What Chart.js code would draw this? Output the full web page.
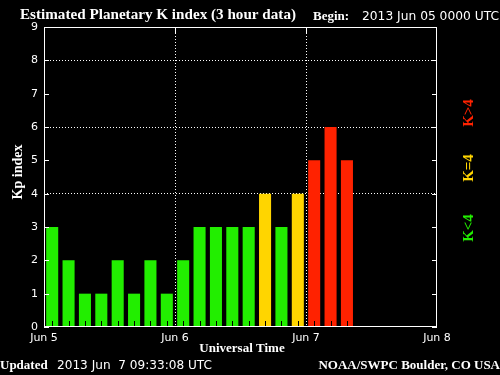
<!DOCTYPE html>
<html>
<head>
<meta charset="utf-8">
<style>
  html, body { margin: 0; padding: 0; background: #000; }
  #wrap { width: 500px; height: 375px; }
</style>
</head>
<body>
<div id="wrap"><canvas id="kpChart" width="500" height="375"></canvas></div>
<script src="https://cdn.jsdelivr.net/npm/chart.js"></script>
<script>
// Kp values, one per 3 hour slot starting 2013 Jun 05 0000 UTC
const kpValues = [3, 2, 1, 1, 2, 1, 2, 1,
                  2, 3, 3, 3, 3, 4, 3, 4,
                  5, 6, 5];
const dayLabels = ['Jun 5', 'Jun 6', 'Jun 7', 'Jun 8'];
const yTicks = [0, 1, 2, 3, 4, 5, 6, 7, 8, 9];
const slotsPerDay = 8;

const GREEN = '#22ee00';
const YELLOW = '#ffd500';
const RED = '#ff2200';
const kpColor = v => v < 4 ? GREEN : (v === 4 ? YELLOW : RED);

const serifBold = 'bold 13px "Liberation Serif", "DejaVu Serif", serif';
const plain = '12px "DejaVu Sans", sans-serif';

// draw text stretched to a given width
function fitText(ctx, txt, x, y, w) {
    const m = ctx.measureText(txt).width;
    ctx.save();
    ctx.translate(x, y);
    ctx.scale(w / m, 1);
    ctx.fillText(txt, 0, 0);
    ctx.restore();
}

// frame, inner tick marks and the loose texts round the plot
const decorPlugin = {
    id: 'decor',
    afterDatasetsDraw(chart) {
        const ctx = chart.ctx;
        const a = chart.chartArea;
        const x = chart.scales.x, y = chart.scales.y;
        ctx.save();
        ctx.strokeStyle = '#fff';
        ctx.lineWidth = 1;
        ctx.strokeRect(a.left + 0.5, a.top + 0.5, a.right - a.left - 1, a.bottom - a.top - 1);
        ctx.beginPath();
        yTicks.forEach(t => {
            const py = Math.round(y.getPixelForValue(t)) + 0.5;
            ctx.moveTo(a.left, py); ctx.lineTo(a.left + 5, py);
            ctx.moveTo(a.right, py); ctx.lineTo(a.right - 5, py);
        });
        for (let d = 1; d < dayLabels.length - 1; d++) {
            const px = Math.round(x.getPixelForValue(d * slotsPerDay)) + 0.5;
            ctx.moveTo(px, a.top); ctx.lineTo(px, a.top + 6);
        }
        ctx.stroke();
        // short black marks at the foot of each slot
        ctx.strokeStyle = '#000';
        ctx.beginPath();
        kpValues.forEach((v, i) => {
            const px = Math.round(x.getPixelForValue(i + 0.5)) + 0.5;
            ctx.moveTo(px, a.bottom - 1); ctx.lineTo(px, a.bottom - 6);
        });
        ctx.stroke();
        ctx.restore();
    },
    afterDraw(chart) {
        const ctx = chart.ctx;
        ctx.save();
        ctx.fillStyle = '#fff';
        ctx.textBaseline = 'middle';
        ctx.textAlign = 'left';
        ctx.font = 'bold 14px "Liberation Serif", "DejaVu Serif", serif';
        fitText(ctx, 'Estimated Planetary K index (3 hour data)', 20, 15, 276);
        ctx.font = serifBold;
        ctx.fillText('Begin:', 313, 17);
        ctx.font = plain;
        fitText(ctx, '2013 Jun 05 0000 UTC', 362, 17, 137);
        ctx.font = serifBold;
        ctx.fillText('Updated', 0, 366);
        ctx.font = plain;
        fitText(ctx, '2013 Jun  7 09:33:08 UTC', 57, 366, 155);
        ctx.font = serifBold;
        ctx.textAlign = 'right';
        ctx.fillText('NOAA/SWPC Boulder, CO USA', 500, 366);
        ctx.textAlign = 'center';
        ctx.fillText('Universal Time', 242, 349);

        ctx.save();
        ctx.translate(18, 172);
        ctx.rotate(-Math.PI / 2);
        ctx.font = 'bold 14px "Liberation Serif", "DejaVu Serif", serif';
        ctx.fillText('Kp index', 0, 0);
        ctx.restore();

        const keys = [['K<4', GREEN, 228], ['K=4', YELLOW, 168], ['K>4', RED, 113]];
        keys.forEach(([txt, col, cy]) => {
            ctx.save();
            ctx.translate(469, cy);
            ctx.rotate(-Math.PI / 2);
            ctx.fillStyle = col;
            ctx.font = 'bold 15px "Liberation Serif", "DejaVu Serif", serif';
            ctx.fillText(txt, 0, 0);
            ctx.restore();
        });
        ctx.restore();
    }
};

const ctx = document.getElementById('kpChart').getContext('2d');
const kpChart = new Chart(ctx, {
    type: 'bar',
    data: {
        datasets: [{
            data: kpValues.map((v, i) => ({ x: i + 0.5, y: v })),
            backgroundColor: kpValues.map(kpColor),
            borderWidth: 0,
            categoryPercentage: 0.8,
            barPercentage: 0.92
        }]
    },
    options: {
        responsive: false,
        animation: false,
        events: [],
        layout: { padding: { left: 0, top: 27, right: 63, bottom: 0 } },
        plugins: {
            legend: { display: false },
            tooltip: { enabled: false }
        },
        scales: {
            x: {
                type: 'linear',
                offset: false,
                min: 0,
                max: (dayLabels.length - 1) * slotsPerDay,
                afterFit: s => { s.height = 48; },
                ticks: {
                    stepSize: slotsPerDay,
                    color: '#fff',
                    font: { family: 'DejaVu Sans', size: 11 },
                    padding: 5,
                    maxRotation: 0,
                    callback: v => dayLabels[v / slotsPerDay]
                },
                grid: {
                    offset: false,
                    drawTicks: false,
                    color: c => (c.tick && c.tick.value > 0 && c.tick.value < 24) ? '#fff' : 'transparent'
                },
                border: { display: false, dash: [1, 2] }
            },
            y: {
                min: 0,
                max: 9,
                afterFit: s => { s.width = 44; },
                ticks: {
                    stepSize: 1,
                    color: '#fff',
                    font: { family: 'DejaVu Sans', size: 11 },
                    padding: 6
                },
                grid: {
                    drawTicks: false,
                    color: c => (c.tick && [4, 6, 8].includes(c.tick.value)) ? '#fff' : 'transparent'
                },
                border: { display: false, dash: [1, 2] }
            }
        }
    },
    plugins: [decorPlugin]
});
</script>
</body>
</html>
